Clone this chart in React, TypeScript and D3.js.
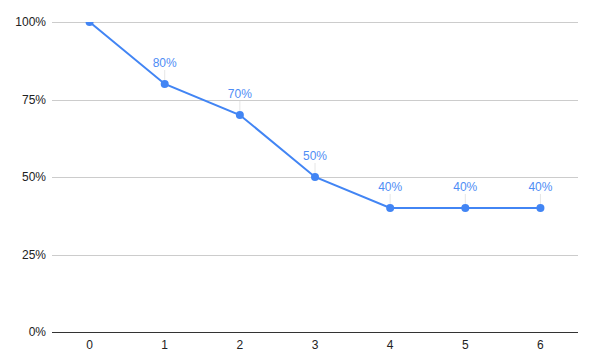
import React, { useRef, useEffect } from "react";
import * as d3 from "d3";

const categories = ["0", "1", "2", "3", "4", "5", "6"];
const values = [1.0, 0.8, 0.7, 0.5, 0.4, 0.4, 0.4];
const yTicks = [0, 0.25, 0.5, 0.75, 1];

const App = () => {
  const ref = useRef<SVGSVGElement>(null);

  useEffect(() => {
    const w = 593;
    const h = 364;
    const m = { top: 22, right: 15, bottom: 32, left: 52 };
    const svg = d3.select(ref.current);
    svg.selectAll("*").remove();

    const xScale = d3.scaleBand()
      .domain(categories)
      .range([m.left, w - m.right]);
    const yScale = d3.scaleLinear()
      .domain([0, 1])
      .range([h - m.bottom, m.top]);
    const cx = (i: number) => xScale(categories[i])! + xScale.bandwidth() / 2;

    const font = "Arial, 'Liberation Sans', sans-serif";

    // gridlines
    svg.append("g")
      .selectAll("line")
      .data(yTicks.filter(t => t > 0))
      .join("line")
      .attr("x1", m.left)
      .attr("x2", w - m.right)
      .attr("y1", d => Math.round(yScale(d)) + 0.5)
      .attr("y2", d => Math.round(yScale(d)) + 0.5)
      .attr("stroke", "#cccccc")
      .attr("stroke-width", 1);

    // y labels
    svg.append("g")
      .selectAll("text")
      .data(yTicks)
      .join("text")
      .attr("x", m.left - 6)
      .attr("y", d => yScale(d))
      .attr("dy", "0.35em")
      .attr("text-anchor", "end")
      .attr("font-family", font)
      .attr("font-size", 12)
      .attr("fill", "#222")
      .text(d => d3.format(".0%")(d));

    // x labels
    svg.append("g")
      .selectAll("text")
      .data(categories)
      .join("text")
      .attr("x", (d, i) => cx(i))
      .attr("y", h - m.bottom + 17)
      .attr("text-anchor", "middle")
      .attr("font-family", font)
      .attr("font-size", 12)
      .attr("fill", "#222")
      .text(d => d);

    // baseline
    svg.append("line")
      .attr("x1", m.left)
      .attr("x2", w - m.right)
      .attr("y1", Math.round(yScale(0)) + 0.5)
      .attr("y2", Math.round(yScale(0)) + 0.5)
      .attr("stroke", "#333")
      .attr("stroke-width", 1);

    svg.append("clipPath")
      .attr("id", "plotClip")
      .append("rect")
      .attr("x", m.left)
      .attr("y", m.top)
      .attr("width", w - m.left - m.right)
      .attr("height", h - m.top - m.bottom + 5);

    const plot = svg.append("g").attr("clip-path", "url(#plotClip)");

    // annotations (leader + label), skip the clipped top point
    const ann = values.map((v, i) => ({ v, i })).filter(d => d.v < 1);
    plot.selectAll(".leader")
      .data(ann)
      .join("line")
      .attr("x1", d => cx(d.i))
      .attr("x2", d => cx(d.i))
      .attr("y1", d => yScale(d.v) - 14)
      .attr("y2", d => yScale(d.v))
      .attr("stroke", "#e6e6e6")
      .attr("stroke-width", 1);

    const line = d3.line<number>()
      .x((d, i) => cx(i))
      .y(d => yScale(d));

    plot.append("path")
      .datum(values)
      .attr("d", line)
      .attr("fill", "none")
      .attr("stroke", "#4285f4")
      .attr("stroke-width", 2);

    plot.selectAll("circle")
      .data(values)
      .join("circle")
      .attr("cx", (d, i) => cx(i))
      .attr("cy", d => yScale(d))
      .attr("r", 4)
      .attr("fill", "#4285f4");

    svg.append("g")
      .selectAll("text")
      .data(ann)
      .join("text")
      .attr("x", d => cx(d.i))
      .attr("y", d => yScale(d.v) - 17)
      .attr("text-anchor", "middle")
      .attr("font-family", font)
      .attr("font-size", 12)
      .attr("fill", "#4f8df5")
      .text(d => d3.format(".0%")(d.v));
  }, []);

  return (
    <svg
      ref={ref}
      width={593}
      height={364}
      style={{ position: "absolute", left: 0, top: 0, background: "#fff" }}
    />
  );
};

export default App;
